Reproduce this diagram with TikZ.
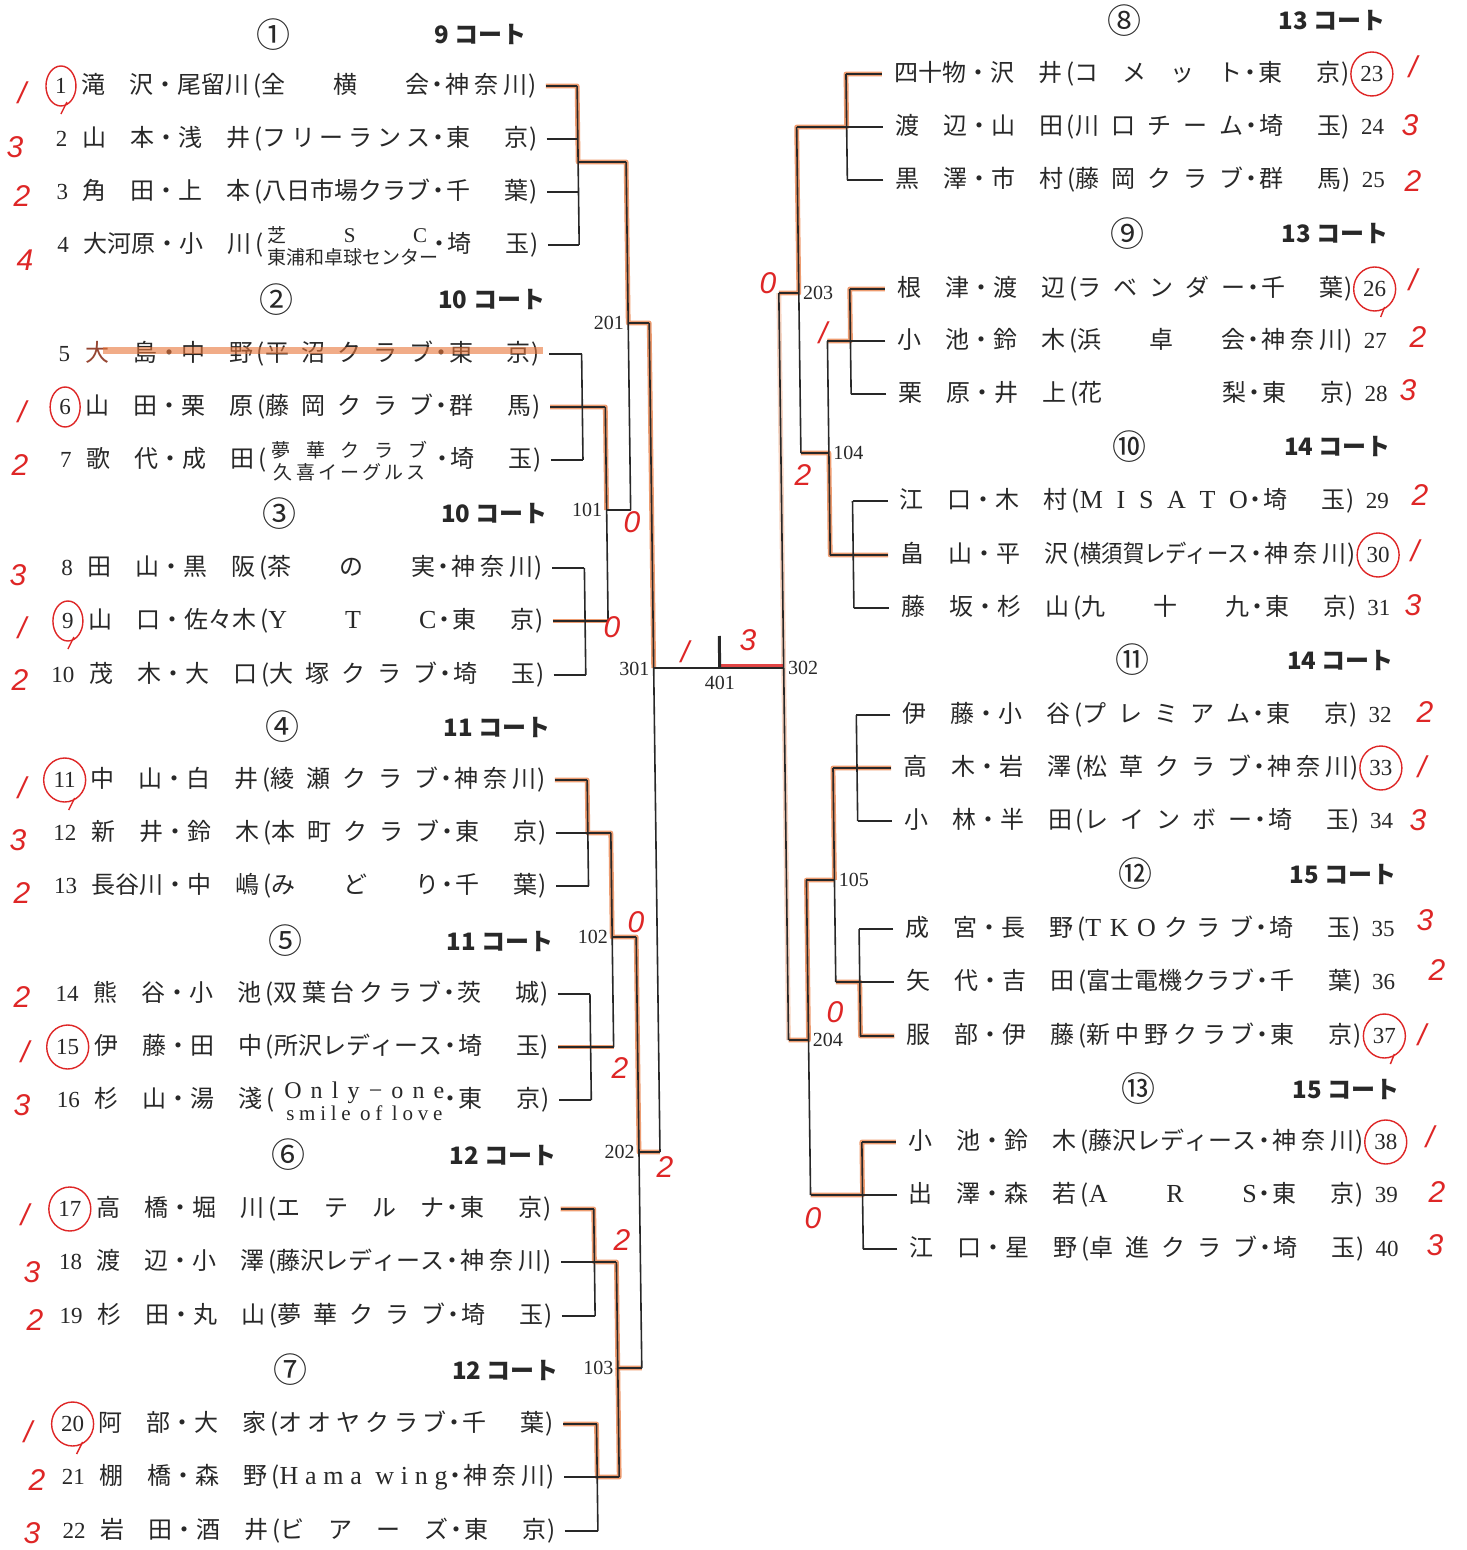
\documentclass[tikz,border=0pt]{standalone}
\usepackage{fontspec}
\usepackage{graphicx}
\setmainfont{Noto Sans CJK JP}
\newfontfamily\numf{Liberation Serif}
\newfontfamily\handf{Liberation Sans}
\newcommand\LL{\numf\fontsize{13}{15}\selectfont}
\newcommand\LS{\numf\fontsize{10.5}{12}\selectfont}
\newcommand\LM{\numf\fontsize{12}{13}\selectfont}
\definecolor{ink}{RGB}{40,40,40}
\definecolor{hlc}{RGB}{232,118,58}
\definecolor{penc}{RGB}{222,38,38}
\definecolor{brn}{RGB}{150,70,50}
\def\spz{spz-unique-marker}
\newcommand\spr[1]{\if\relax\detokenize{#1}\relax\else\sprA#1\spz\sprEnd\fi}
\def\sprA#1#2\sprEnd{{#1}\ifx\spz#2\else\hfill\sprA#2\sprEnd\fi}
\newsavebox\cbox
\newcommand\clubbox[1]{\sbox\cbox{#1}\ifdim\wd\cbox>84.5pt\relax\resizebox{84pt}{\height}{\usebox\cbox}\else\makebox[84pt][s]{\spr{#1}}\fi}
\newcommand\rowtext[4]{\makebox[36pt][s]{\spr{#1}}\makebox[12pt]{・}\makebox[36pt][s]{\spr{#2}}\makebox[6pt][r]{(}\clubbox{#3}\makebox[8pt]{・}\makebox[41pt][s]{\spr{#4}}\makebox[5pt]{)}}
\newcommand\Lrow[6]{\node[txt,anchor=west] (tL#2) at (80,#1) {\rowtext{#3}{#4}{#5}{#6}};\node[numst,anchor=east] (nL#2) at (66,#1) {#2};}
\newcommand\Rrow[6]{\node[txt,anchor=west] (tR#2) at (893,#1) {\rowtext{#3}{#4}{#5}{#6}};\node[numst,anchor=west] (nR#2) at (1359,#1) {#2};}
\tikzset{
 txt/.style={inner sep=0pt, font=\fontsize{12}{14}\selectfont, text=ink},
 numst/.style={inner sep=0pt, font=\numf\fontsize{11.5}{13}\selectfont, text=ink},
 hdr/.style={inner sep=0pt, font=\fontsize{17}{19}\selectfont, text=ink},
 crt/.style={inner sep=0pt, anchor=west, font=\bfseries\fontsize{12}{14}\selectfont, text=ink},
 lbl/.style={inner sep=1pt, font=\numf\fontsize{10}{12}\selectfont, text=ink},
 br/.style={draw=ink, line width=0.8pt},
 stubL/.style={shorten <=4pt},
 stubR/.style={shorten <=6pt},
 hl/.style={draw=hlc, line width=2.4pt, opacity=0.72, line join=round},
 redpen/.style={draw=penc, line width=0.7pt},
 rk/.style={text=penc, font=\handf\itshape\fontsize{15}{15}\selectfont, inner sep=0pt},
 twoline/.style={inner sep=0pt, align=center, font=\fontsize{9.5}{11}\selectfont, text=ink},
}
\begin{document}
\begin{tikzpicture}[x=0.5pt,y=-0.5pt]
\fill[white] (0,0) rectangle (1466,1550);
\useasboundingbox (0,0) rectangle (1466,1550);
\begin{scope}[xslant=-0.013]
% ---------- headers ----------
\foreach \c/\y/\t in {①/35/9,②/300/10,③/514/10,④/727/11,⑤/941/11,⑥/1155/12,⑦/1370/12}{
  \node[hdr] (hL\t\y) at (273,\y) {\c};
  \node[crt] (cL\t\y) at (434,\y) {\t\ コート};}
\foreach \c/\y/\t in {⑧/21/13,⑨/234/13,⑩/447/14,⑪/660/14,⑫/874/15,⑬/1089/15}{
  \node[hdr] (hR\t\y) at (1124,\y) {\c};
  \node[crt] (cR\t\y) at (1278,\y) {\t\ コート};}
% ---------- left entries ----------
\Lrow{86}{1}{滝沢}{尾留川}{全横会}{神奈川}
\Lrow{139}{2}{山本}{浅井}{フリーランス}{東京}
\Lrow{192}{3}{角田}{上本}{八日市場クラブ}{千葉}
\Lrow{245}{4}{大河原}{小川}{}{埼玉}
\Lrow{354}{5}{{\color{brn}大}島}{中野}{平沼クラブ}{東京}
\Lrow{407}{6}{山田}{栗原}{藤岡クラブ}{群馬}
\Lrow{460}{7}{歌代}{成田}{}{埼玉}
\Lrow{568}{8}{田山}{黒阪}{茶の実}{神奈川}
\Lrow{621}{9}{山口}{佐々木}{{\LL Y}{\LL T}{\LL C}}{東京}
\Lrow{675}{10}{茂木}{大口}{大塚クラブ}{埼玉}
\Lrow{780}{11}{中山}{白井}{綾瀬クラブ}{神奈川}
\Lrow{833}{12}{新井}{鈴木}{本町クラブ}{東京}
\Lrow{886}{13}{長谷川}{中嶋}{みどり}{千葉}
\Lrow{994}{14}{熊谷}{小池}{双葉台クラブ}{茨城}
\Lrow{1047}{15}{伊藤}{田中}{所沢レディース}{埼玉}
\Lrow{1100}{16}{杉山}{湯淺}{}{東京}
\Lrow{1209}{17}{高橋}{堀川}{エテルナ}{東京}
\Lrow{1262}{18}{渡辺}{小澤}{藤沢レディース}{神奈川}
\Lrow{1316}{19}{杉田}{丸山}{夢華クラブ}{埼玉}
\Lrow{1424}{20}{阿部}{大家}{オオヤクラブ}{千葉}
\Lrow{1477}{21}{棚橋}{森野}{{\LL H}{\LL a}{\LL m}{\LL a}{}{\LL w}{\LL i}{\LL n}{\LL g}}{神奈川}
\Lrow{1531}{22}{岩田}{酒井}{ビアーズ}{東京}
% two-line club names
\node[twoline] (c4) at (344,246) {\makebox[80pt][s]{\spr{芝{\LS S}{\LS C}}}\\\makebox[80pt][s]{\spr{東浦和卓球センター}}};
\node[twoline] (c7) at (344,461) {\makebox[78pt][s]{\spr{夢華クラブ}}\\\makebox[76pt][s]{\spr{久喜イーグルス}}};
\node[twoline] (c16) at (350,1101) {\makebox[80pt][s]{\spr{{\LM O}{\LM n}{\LM l}{\LM y}{\LM −}{\LM o}{\LM n}{\LM e}}}\\\makebox[78pt][s]{\spr{{\LS s}{\LS m}{\LS i}{\LS l}{\LS e}{}{\LS o}{\LS f}{}{\LS l}{\LS o}{\LS v}{\LS e}}}};
% ---------- right entries ----------
\Rrow{74}{23}{四十物}{沢井}{コメット}{東京}
\Rrow{127}{24}{渡辺}{山田}{川口チーム}{埼玉}
\Rrow{180}{25}{黒澤}{市村}{藤岡クラブ}{群馬}
\Rrow{289}{26}{根津}{渡辺}{ラベンダー}{千葉}
\Rrow{341}{27}{小池}{鈴木}{浜卓会}{神奈川}
\Rrow{394}{28}{栗原}{井上}{花梨}{東京}
\Rrow{501}{29}{江口}{木村}{{\LL M}{\LL I}{\LL S}{\LL A}{\LL T}{\LL O}}{埼玉}
\Rrow{555}{30}{畠山}{平沢}{横須賀レディース}{神奈川}
\Rrow{608}{31}{藤坂}{杉山}{九十九}{東京}
\Rrow{715}{32}{伊藤}{小谷}{プレミアム}{東京}
\Rrow{768}{33}{高木}{岩澤}{松草クラブ}{神奈川}
\Rrow{821}{34}{小林}{半田}{レインボー}{埼玉}
\Rrow{929}{35}{成宮}{長野}{{\LL T}{\LL K}{\LL O}クラブ}{埼玉}
\Rrow{982}{36}{矢代}{吉田}{富士電機クラブ}{千葉}
\Rrow{1036}{37}{服部}{伊藤}{新中野クラブ}{東京}
\Rrow{1142}{38}{小池}{鈴木}{藤沢レディース}{神奈川}
\Rrow{1195}{39}{出澤}{森若}{{\LL A}{\LL R}{\LL S}}{東京}
\Rrow{1249}{40}{江口}{星野}{卓進クラブ}{埼玉}
% ---------- orange highlights ----------
\draw[hl,stubL] (tL1.east) -- (576,86) -- (576,162) -- (624,162) -- (624,323) -- (645,323) -- (645,668);
\draw[hl,stubL] (tL6.east) -- (600,407) -- (600,510);
\draw[hl,stubL] (tL9.east) -- (600,621);
\draw[hl,stubL] (tL11.east) -- (577,780) -- (577,833) -- (600,833) -- (600,937) -- (624,937) -- (624,1152) -- (645,1152);
\draw[hl,stubL] (tL15.east) -- (600,1047);
\draw[hl,stubL] (tL17.east) -- (578,1209) -- (578,1262) -- (600,1262) -- (600,1368) -- (624,1368);
\draw[hl,stubL] (tL20.east) -- (578,1424) -- (578,1477) -- (600,1477) -- (600,1368);
\draw[draw=hlc, line width=3.5pt, opacity=0.6] (98,351) -- (538,351);
\draw[hl,stubR] (tR23.west) -- (845,74) -- (845,127) -- (795,127) -- (795,293) -- (775,293);
\draw[hl,stubR] (tR26.west) -- (846,289) -- (846,341) -- (823,341);
\draw[hl,stubR] (tR30.west) -- (846,555) -- (823,555) -- (823,453) -- (795,453);
\draw[hl,stubR] (tR33.west) -- (823,768) -- (823,880);
\draw[hl,stubR] (tR37.west) -- (847,1036) -- (847,982) -- (823,982);
\draw[hl] (823,880) -- (795,880) -- (795,1040) -- (775,1040);
\draw[hl,stubR] (tR38.west) -- (847,1142) -- (847,1195) -- (795,1195);
\draw[hl,opacity=0.3] (775,293) -- (775,1040);
\draw[draw=penc, line width=2pt, opacity=0.85] (711,666) -- (775,666);
% ---------- black bracket lines, left ----------
\foreach \n/\y/\x in {1/86/576,2/139/576,3/192/576,4/245/576,5/354/577,6/407/577,7/460/577,8/568/577,9/621/577,10/675/577,11/780/577,12/833/577,13/886/577,14/994/577,15/1047/577,16/1100/577,17/1209/578,18/1262/578,19/1316/578,20/1424/578,21/1477/578,22/1531/578}
  \draw[br,stubL] (tL\n.east) -- (\x,\y);
\draw[br] (576,86) -- (576,245) (577,354) -- (577,460) (577,568) -- (577,675)
          (577,780) -- (577,886) (577,994) -- (577,1100) (578,1209) -- (578,1316) (578,1424) -- (578,1531);
\draw[br] (576,162) -- (624,162) (577,407) -- (600,407) (577,621) -- (600,621)
          (577,833) -- (600,833) (577,1047) -- (600,1047) (578,1262) -- (600,1262) (578,1477) -- (600,1477);
\draw[br] (600,407) -- (600,621) (600,833) -- (600,1047) (600,1262) -- (600,1477);
\draw[br] (600,510) -- (624,510) (600,937) -- (624,937) (600,1368) -- (624,1368);
\draw[br] (624,162) -- (624,510) (624,937) -- (624,1368);
\draw[br] (624,323) -- (645,323) (624,1152) -- (645,1152);
\draw[br] (645,323) -- (645,1152) (645,668) -- (775,668);
\draw[draw=ink, line width=1.5pt] (711,636) -- (711,668);
% ---------- black bracket lines, right ----------
\foreach \n/\y/\x in {23/74/845,24/127/845,25/180/845,26/289/846,27/341/846,28/394/846,29/501/846,30/555/846,31/608/846,32/715/847,33/768/847,34/821/847,35/929/847,36/982/847,37/1036/847,38/1142/847,39/1195/847,40/1249/847}
  \draw[br,stubR] (tR\n.west) -- (\x,\y);
\draw[br] (845,74) -- (845,180) (846,289) -- (846,394) (846,501) -- (846,608)
          (847,715) -- (847,821) (847,929) -- (847,1036) (847,1142) -- (847,1249);
\draw[br] (845,127) -- (795,127) (846,341) -- (823,341) (846,555) -- (823,555)
          (847,768) -- (823,768) (847,982) -- (823,982) (847,1195) -- (795,1195);
\draw[br] (823,341) -- (823,555) (823,768) -- (823,982);
\draw[br] (823,453) -- (795,453) (823,880) -- (795,880);
\draw[br] (795,127) -- (795,453) (795,880) -- (795,1195);
\draw[br] (795,293) -- (775,293) (795,1040) -- (775,1040);
\draw[br] (775,293) -- (775,1040);
% ---------- match labels ----------
\node[lbl,anchor=east] (m101) at (598,510) {101};
\node[lbl,anchor=east] (m102) at (598,937) {102};
\node[lbl,anchor=east] (m103) at (598,1368) {103};
\node[lbl,anchor=east] (m201) at (622,323) {201};
\node[lbl,anchor=east] (m202) at (622,1152) {202};
\node[lbl,anchor=east] (m301) at (643,669) {301};
\node[lbl,anchor=north] (m401) at (711,674) {401};
\node[lbl,anchor=west] (m302) at (777,668) {302};
\node[lbl,anchor=west] (m203) at (797,293) {203};
\node[lbl,anchor=west] (m104) at (825,453) {104};
\node[lbl,anchor=west] (m105) at (825,880) {105};
\node[lbl,anchor=west] (m204) at (797,1040) {204};
\end{scope}
% ---------- handwritten marks ----------
\foreach \n in {1,6,9}
  \draw[redpen] (nL\n.center) ellipse [x radius=7.5pt, y radius=10pt];
\foreach \n in {11,15,17,20}
  \draw[redpen] (nL\n.center) ellipse [x radius=10.5pt, y radius=11pt];
\foreach \n in {23,26,30,33,37,38}
  \draw[redpen] (nR\n.center) ellipse [x radius=10.5pt, y radius=11pt];
\foreach \n in {1,9}
  \draw[redpen] ([shift={(3pt,-8pt)}]nL\n.center) -- ++(-3pt,-6pt);
\foreach \n in {11,20}
  \draw[redpen] ([shift={(5pt,-9pt)}]nL\n.center) -- ++(-3pt,-6pt);
\foreach \n in {26,37}
  \draw[redpen] ([shift={(5pt,-9pt)}]nR\n.center) -- ++(-2pt,-5pt);
\foreach \x/\y/\t in {15/147/3,22/196/2,25/260/4,20/465/2,18/575/3,20/680/2,
  18/840/3,22/893/2,22/997/2,22/1105/3,32/1272/3,35/1320/2,37/1480/2,32/1533/3,
  632/522/0,612/627/0,636/922/0,620/1068/2,665/1167/2,622/1240/2,748/640/3,768/283/0,803/475/2,835/1012/0,813/1218/0,
  1410/125/3,1413/181/2,1418/337/2,1408/390/3,1420/495/2,1413/605/3,
  1425/712/2,1418/820/3,1425/920/3,1437/970/2,1437/1192/2,1435/1245/3}
  \node[rk] at (\x,\y) {\t};
\foreach \x/\y in {22/93,22/412,22/628,22/788,25/1052,25/1215,28/1432,685/652,823/333,
  1413/67,1413/280,1415/551,1422/767,1422/1035,1430/1137}
  \node[rk] at (\x,\y) {/};
\end{tikzpicture}
\end{document}
